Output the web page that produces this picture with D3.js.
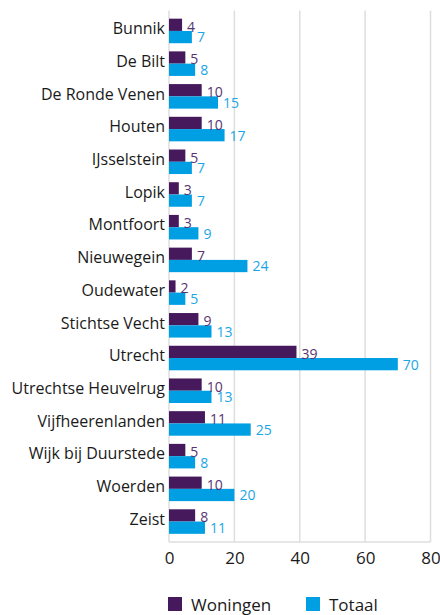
<!DOCTYPE html>
<html>
<head>
<meta charset="utf-8">
<script src="https://d3js.org/d3.v7.min.js"></script>
<style>
    body { margin: 0; background: #fff; }
    svg text { font-family: "Open Sans", "Noto Sans", sans-serif; }
    .grid line { stroke: #dedede; stroke-width: 1.5px; }
</style>
</head>
<body>
<div id="chart"></div>
<script>
    var gemeenten = ["Bunnik", "De Bilt", "De Ronde Venen", "Houten", "IJsselstein", "Lopik",
        "Montfoort", "Nieuwegein", "Oudewater", "Stichtse Vecht", "Utrecht",
        "Utrechtse Heuvelrug", "Vijfheerenlanden", "Wijk bij Duurstede", "Woerden", "Zeist"];
    var woningen = [4, 5, 10, 10, 5, 3, 3, 7, 2, 9, 39, 10, 11, 5, 10, 8];
    var totaal = [7, 8, 15, 17, 7, 7, 9, 24, 5, 13, 70, 13, 25, 8, 20, 11];
    var xTicks = [0, 20, 40, 60, 80];
    var seriesNames = ["Woningen", "Totaal"];
    var colors = ["#46195c", "#009fe3"];

    var W = 440, H = 615;
    var margin = { top: 10.5, right: 9.5, bottom: 73, left: 169 },
        width = W - margin.left - margin.right,
        height = H - margin.top - margin.bottom;

    var svg = d3.select("#chart").append("svg")
        .attr("width", W)
        .attr("height", H);

    var g = svg.append("g")
        .attr("transform", "translate(" + margin.left + "," + margin.top + ")");

    var x = d3.scaleLinear().domain([0, 80]).range([0, width]);
    var y = d3.scaleBand().domain(gemeenten).range([0, height]).padding(0.25);
    var sub = d3.scaleBand().domain(seriesNames).range([0, y.bandwidth()]);

    // gridlines
    var grid = g.append("g").attr("class", "grid");
    grid.selectAll("line.v")
        .data(xTicks)
        .enter().append("line")
        .attr("class", "v")
        .attr("x1", d => x(d)).attr("x2", d => x(d))
        .attr("y1", 0).attr("y2", height);
    grid.append("line")
        .attr("x1", 0).attr("x2", width)
        .attr("y1", height).attr("y2", height);

    // x axis labels
    var xAxis = g.append("g")
        .attr("transform", "translate(0," + height + ")")
        .call(d3.axisBottom(x).tickValues(xTicks).tickSize(0).tickPadding(10));
    xAxis.select(".domain").remove();
    xAxis.selectAll("text")
        .attr("fill", "#1a1a1a")
        .style("font-size", "17px");

    // category labels
    var yAxis = g.append("g")
        .call(d3.axisLeft(y).tickSize(0).tickPadding(4));
    yAxis.select(".domain").remove();
    yAxis.selectAll("text")
        .attr("fill", "#1a1a1a")
        .attr("dy", "0.2em")
        .style("font-size", "16px");

    var rows = gemeenten.map((d, i) => ({ name: d, values: [woningen[i], totaal[i]] }));

    var row = g.selectAll(".row")
        .data(rows)
        .enter().append("g")
        .attr("class", "row")
        .attr("transform", d => "translate(0," + y(d.name) + ")");

    row.selectAll("rect")
        .data(d => d.values.map((v, j) => ({ key: seriesNames[j], value: v, idx: j })))
        .enter().append("rect")
        .attr("x", 0)
        .attr("y", d => sub(d.key))
        .attr("width", d => x(d.value))
        .attr("height", sub.bandwidth())
        .attr("fill", d => colors[d.idx]);

    row.selectAll("text.val")
        .data(d => d.values.map((v, j) => ({ key: seriesNames[j], value: v, idx: j })))
        .enter().append("text")
        .attr("class", "val")
        .attr("x", d => x(d.value) + 5)
        .attr("y", d => sub(d.key) + sub.bandwidth() / 2 + (d.idx == 0 ? 2 : 0.5))
        .attr("dy", "0.35em")
        .attr("fill", d => d.idx == 0 ? "#5a3470" : "#1aa6e6")
        .style("font-size", "14px")
        .text(d => d.value);

    // legend
    var legend = svg.append("g")
        .attr("transform", "translate(168,597)");
    var legendX = [0, 138];
    var item = legend.selectAll(".item")
        .data(seriesNames)
        .enter().append("g")
        .attr("transform", (d, i) => "translate(" + legendX[i] + ",0)");
    item.append("rect")
        .attr("width", 14).attr("height", 14)
        .attr("fill", (d, i) => colors[i]);
    item.append("text")
        .attr("x", 23)
        .attr("y", 14)
        .attr("fill", "#1a1a1a")
        .style("font-size", "17px")
        .text(d => d);
</script>
</body>
</html>
